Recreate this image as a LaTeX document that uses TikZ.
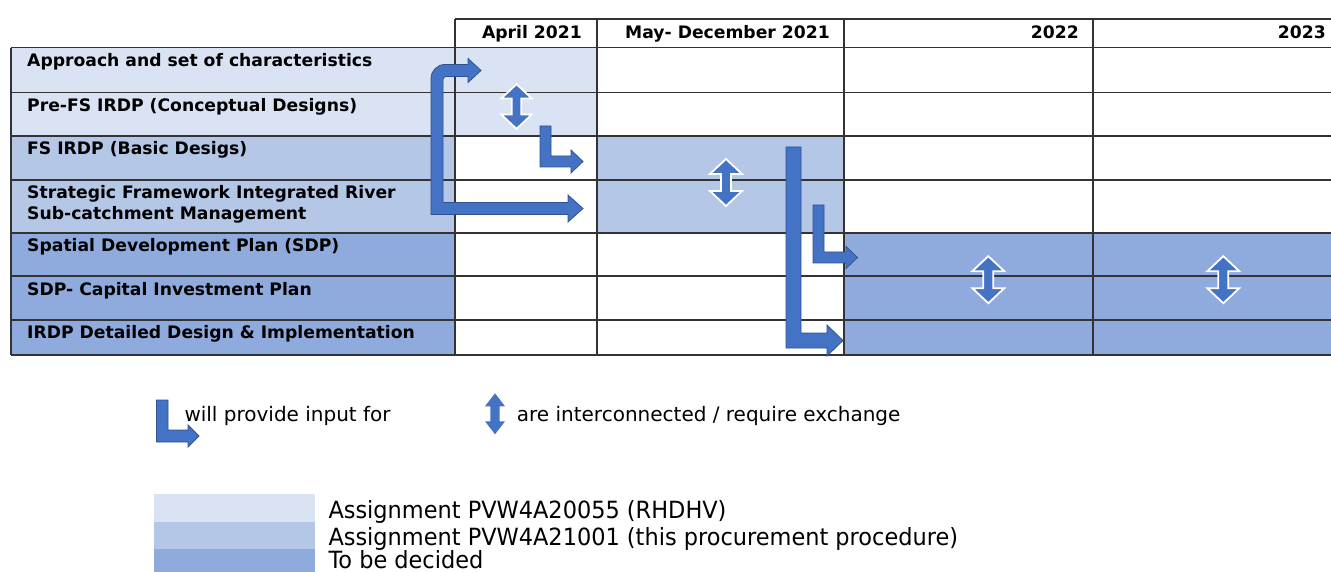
\documentclass[tikz,border=0pt]{standalone}
\usepackage{fontspec}
\setmainfont{DejaVu Sans}
\newfontfamily\legfont[FakeStretch=0.947]{DejaVu Sans}
\definecolor{cLight}{HTML}{DAE3F3}
\definecolor{cMed}{HTML}{B4C7E7}
\definecolor{cDark}{HTML}{8FAADC}
\definecolor{cArrow}{HTML}{4472C4}
\definecolor{cArrowD}{HTML}{2F528F}
\definecolor{cGrid}{HTML}{333333}
\tikzset{
  grid/.style={draw=cGrid,line width=1.1pt},
  lab/.style={anchor=base west,inner sep=0pt,font=\bfseries\fontsize{17.2}{21}\selectfont},
  hdr/.style={anchor=base east,inner sep=0pt,font=\bfseries\fontsize{17.2}{21}\selectfont},
  legtxt/.style={anchor=base west,inner sep=0pt,font=\fontsize{20}{24}\selectfont},
  keytxt/.style={anchor=base west,inner sep=0pt,font=\legfont\fontsize{23.7}{27}\selectfont},
  larr/.style={fill=cArrow,draw=cArrowD,line width=0.8pt,line join=miter},
  dbl/.pic={\filldraw[fill=cArrow,draw=white,line width=1.8pt,line join=miter]
     (0,-23.5) -- (16,-8.5) -- (5,-8.5) -- (5,8.5) -- (16,8.5) -- (0,23.5)
     -- (-16,8.5) -- (-5,8.5) -- (-5,-8.5) -- (-16,-8.5) -- cycle;},
  legdbl/.pic={\fill[cArrow] (0,-20.5) -- (10,-7.5) -- (4.7,-7.5) -- (4.7,7.5) -- (10,7.5)
     -- (0,20.5) -- (-10,7.5) -- (-4.7,7.5) -- (-4.7,-7.5) -- (-10,-7.5) -- cycle;}
}
\begin{document}
\begin{tikzpicture}[x=1pt,y=-1pt]
\useasboundingbox (0,0) rectangle (1331,572);
% cell fills
\fill[cLight] (11,47.7) rectangle (597,136);
\fill[cMed] (11,136) rectangle (455,233);
\fill[cMed] (597,136) rectangle (844,233);
\fill[cDark] (11,233) rectangle (455,355);
\fill[cDark] (844,233) rectangle (1331,355);
% grid
\draw[grid] (455,19) -- (1331,19);
\foreach \yy in {47.7,92.3,136,180,233,276,320,355} {\draw[grid] (11,\yy) -- (1331,\yy);}
\draw[grid] (11,47.7) -- (11,355);
\foreach \xx in {455,597,844,1093} {\draw[grid] (\xx,19) -- (\xx,355);}
% header
\node[hdr] (h1) at (582,38.5) {April 2021};
\node[hdr] (h2) at (830,38.5) {May- December 2021};
\node[hdr] (h3) at (1079,38.5) {2022};
\node[hdr] (h4) at (1326,38.5) {2023};
% row labels
\node[lab] (r1) at (27,66.5) {Approach and set of characteristics};
\node[lab] (r2) at (27,111.3) {Pre-FS IRDP (Conceptual Designs)};
\node[lab] (r3) at (27,155) {FS IRDP (Basic Desigs)};
\node[lab] (r4a) at (27,199) {Strategic Framework Integrated River};
\node[lab] (r4b) at (27,220) {Sub-catchment Management};
\node[lab] (r5) at (27,252) {Spatial Development Plan (SDP)};
\node[lab] (r6) at (27,295) {SDP- Capital Investment Plan};
\node[lab] (r7) at (27,338.5) {IRDP Detailed Design \& Implementation};
% bent arrows
\filldraw[larr] (431,214.5) -- (431,78.5) arc[start angle=180,end angle=270,radius=14]
  -- (468,64.5) -- (468,58.5) -- (481,70.5) -- (468,82.5) -- (468,76.5) -- (446,76.5)
  arc[start angle=270,end angle=180,radius=3] -- (443,202.5) -- (568,202.5) -- (568,195)
  -- (583,208.5) -- (568,222) -- (568,214.5) -- cycle;
\filldraw[larr] (540,126) -- (551,126) -- (551,156) -- (571,156) -- (571,150)
  -- (583,161.5) -- (571,173) -- (571,167) -- (540,167) -- cycle;
\filldraw[larr] (786,147) -- (801,147) -- (801,333) -- (827,333) -- (827,325)
  -- (843,340.5) -- (827,356) -- (827,348) -- (786,348) -- cycle;
\filldraw[larr] (813,205) -- (824,205) -- (824,252) -- (846,252) -- (846,246.5)
  -- (857.5,257.5) -- (846,268.5) -- (846,263) -- (813,263) -- cycle;
% double arrows
\pic[scale=0.95] (d1) at (516.5,106.5) {dbl};
\pic (d2) at (726,182.5) {dbl};
\pic (d3) at (988.3,279.7) {dbl};
\pic (d4) at (1223.3,279.7) {dbl};
% legend
\filldraw[larr] (156.5,400) -- (168,400) -- (168,430) -- (188,430) -- (188,425)
  -- (199,436) -- (188,447) -- (188,442) -- (156.5,442) -- cycle;
\node[legtxt] (l1) at (184.3,421.7) {will provide input for};
\pic (ld) at (495,413.8) {legdbl};
\node[legtxt] (l2) at (516.7,421.7) {are interconnected / require exchange};
% colour key
\fill[cLight] (154.3,494.3) rectangle (315,521.7);
\fill[cMed] (154.3,521.7) rectangle (315,549);
\fill[cDark] (154.3,549) rectangle (315,572);
\node[keytxt] (k1) at (328.3,518.3) {Assignment PVW4A20055 (RHDHV)};
\node[keytxt] (k2) at (328.3,545) {Assignment PVW4A21001 (this procurement procedure)};
\node[keytxt,text depth=0pt] (k3) at (328.3,568) {To be decided};
\end{tikzpicture}
\end{document}
